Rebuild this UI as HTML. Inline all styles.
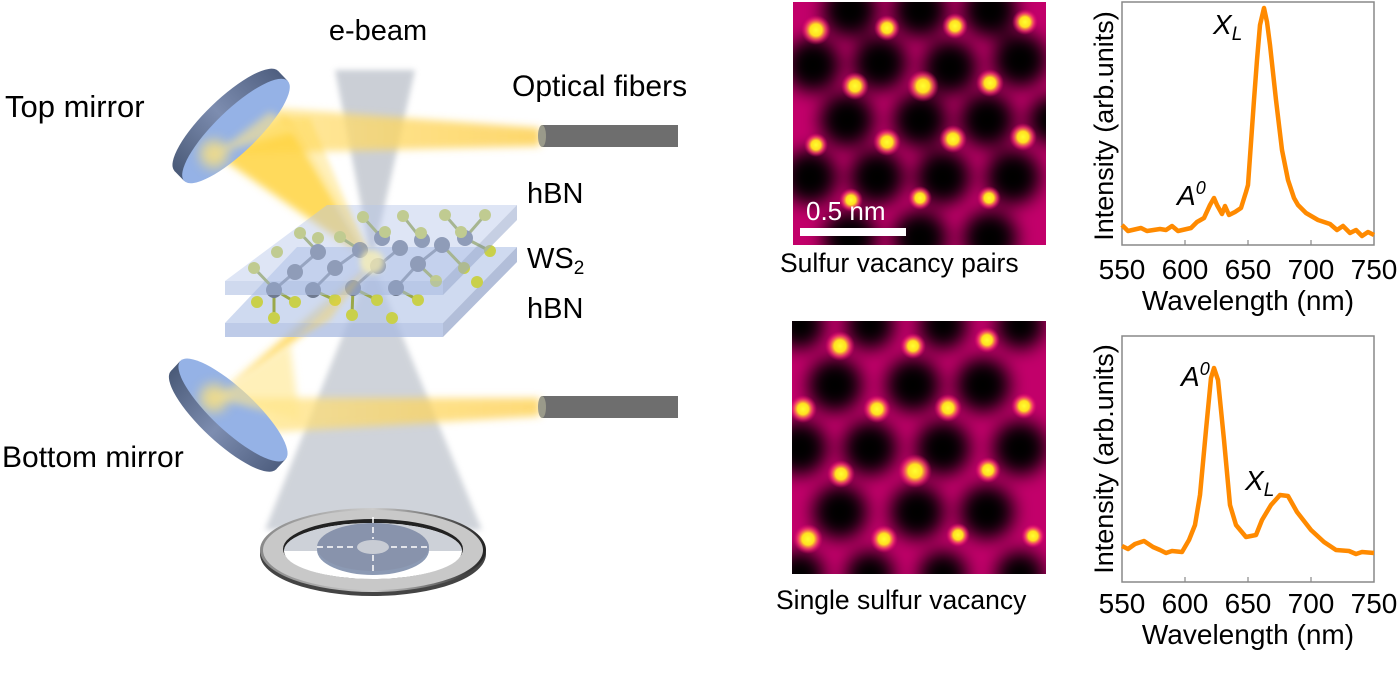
<!DOCTYPE html>
<html><head><meta charset="utf-8"><style>
html,body{margin:0;padding:0;background:#fff}
svg{display:block}
text{font-family:"Liberation Sans",Arial,sans-serif;fill:#000}
</style></head><body>
<svg width="1400" height="700" viewBox="0 0 1400 700" xmlns="http://www.w3.org/2000/svg">
<defs>
<filter id="b3" x="-50%" y="-50%" width="200%" height="200%"><feGaussianBlur stdDeviation="3"/></filter>
<filter id="b4" x="-50%" y="-50%" width="200%" height="200%"><feGaussianBlur stdDeviation="4"/></filter>
<filter id="b6" x="-50%" y="-50%" width="200%" height="200%"><feGaussianBlur stdDeviation="6"/></filter>
<filter id="b9" x="-20%" y="-20%" width="140%" height="140%"><feGaussianBlur stdDeviation="9"/></filter>
<radialGradient id="dot"><stop offset="0" stop-color="#ffff30"/><stop offset="0.4" stop-color="#ffe020"/><stop offset="0.7" stop-color="#ff4070" stop-opacity="0.7"/><stop offset="1" stop-color="#e0006a" stop-opacity="0"/></radialGradient>
<linearGradient id="mir" x1="0" y1="0" x2="1" y2="0"><stop offset="0" stop-color="#4a5a78"/><stop offset="0.5" stop-color="#7d8db0"/><stop offset="1" stop-color="#4f5f80"/></linearGradient>
<linearGradient id="ybeam" x1="0" y1="0" x2="1" y2="0"><stop offset="0" stop-color="#ffe68a"/><stop offset="1" stop-color="#fcc93a"/></linearGradient>
<linearGradient id="ring" x1="0" y1="0" x2="1" y2="0"><stop offset="0" stop-color="#888"/><stop offset="0.5" stop-color="#ccc"/><stop offset="1" stop-color="#222"/></linearGradient>
<clipPath id="c1"><rect x="793" y="2" width="253" height="243"/></clipPath>
<clipPath id="c2"><rect x="792" y="321" width="254" height="253"/></clipPath>
<clipPath id="f1"><ellipse cx="0" cy="0" rx="72" ry="21" transform="translate(236,131) rotate(-44)"/></clipPath>
<clipPath id="f2"><ellipse cx="0" cy="0" rx="72" ry="21" transform="translate(233,410) rotate(43)"/></clipPath>
</defs>

<polygon points="335,70 415,70 372,262" fill="#a9b0bc" opacity="0.6" filter="url(#b3)"/>
<polygon points="372,262 265,530 482,530" fill="#a9b0bc" opacity="0.55" filter="url(#b3)"/>

<g filter="url(#b4)">
<polygon points="272,108 540,128 540,146 215,154" fill="url(#ybeam)" opacity="0.75"/>
<polygon points="215,154 285,116 372,262" fill="#ffd440" opacity="0.85"/>
<polygon points="372,262 215,398 295,340" fill="#ffcf38" opacity="0.85"/>
<polygon points="215,398 540,398 540,416 275,432" fill="url(#ybeam)" opacity="0.7"/>
</g>

<g transform="translate(236,131) rotate(-44)">
<ellipse cx="0" cy="-14" rx="72" ry="21" fill="url(#mir)"/>
<rect x="-72" y="-14" width="144" height="14" fill="url(#mir)"/>
</g>
<ellipse cx="0" cy="0" rx="72" ry="21" transform="translate(236,131) rotate(-44)" fill="#95b2e6"/>
<g clip-path="url(#f1)"><circle cx="214" cy="154" r="14" fill="#ffe37a" opacity="0.8" filter="url(#b6)"/></g>

<g transform="translate(233,410) rotate(43)">
<ellipse cx="0" cy="14" rx="72" ry="21" fill="url(#mir)"/>
<rect x="-72" y="0" width="144" height="14" fill="url(#mir)"/>
</g>
<ellipse cx="0" cy="0" rx="72" ry="21" transform="translate(233,410) rotate(43)" fill="#95b2e6"/>
<g clip-path="url(#f2)"><circle cx="214" cy="398" r="14" fill="#ffe37a" opacity="0.8" filter="url(#b6)"/></g>
<g filter="url(#b4)">
<polygon points="215,154 270,112 300,130" fill="#ffe68a" opacity="0.6"/>
<polygon points="215,398 290,345 300,420" fill="#ffe68a" opacity="0.6"/>
</g>

<polygon points="297,247 517,247 443,323 225,323" fill="#b6c6e8" opacity="0.65"/>
<polygon points="225,323 443,323 443,337 225,337" fill="#a8b9e0" opacity="0.75"/>
<polygon points="443,323 517,247 517,262 443,337" fill="#98a8cc" opacity="0.75"/>
<g>
<g stroke="#9aa84a" stroke-width="3">
<line x1="254" y1="268" x2="275" y2="290"/><line x1="275" y1="290" x2="295" y2="302"/><line x1="313" y1="290" x2="335" y2="300"/><line x1="353" y1="288" x2="377" y2="300"/>
<line x1="396" y1="288" x2="418" y2="300"/><line x1="418" y1="264" x2="436" y2="281"/><line x1="442" y1="245" x2="464" y2="268"/><line x1="465" y1="238" x2="490" y2="251"/>
<line x1="300" y1="233" x2="318" y2="252"/><line x1="340" y1="237" x2="360" y2="250"/><line x1="363" y1="217" x2="382" y2="238"/><line x1="403" y1="216" x2="422" y2="240"/>
<line x1="445" y1="215" x2="465" y2="238"/><line x1="485" y1="215" x2="465" y2="238"/><line x1="274" y1="290" x2="274" y2="318"/><line x1="353" y1="288" x2="352" y2="315"/>
</g>
<g stroke="#7f8aa0" stroke-width="3">
<line x1="274" y1="290" x2="295" y2="272"/><line x1="313" y1="290" x2="335" y2="268"/><line x1="353" y1="288" x2="378" y2="266"/><line x1="396" y1="288" x2="418" y2="264"/>
<line x1="295" y1="272" x2="318" y2="252"/><line x1="335" y1="268" x2="360" y2="250"/><line x1="378" y1="266" x2="400" y2="248"/><line x1="418" y1="264" x2="442" y2="245"/>
</g>
<g fill="#6f7a90">
<circle cx="274" cy="290" r="8"/><circle cx="313" cy="290" r="8"/><circle cx="353" cy="288" r="8"/><circle cx="396" cy="288" r="8"/>
<circle cx="295" cy="272" r="8"/><circle cx="335" cy="268" r="8"/><circle cx="378" cy="266" r="8"/><circle cx="418" cy="264" r="8"/>
<circle cx="318" cy="252" r="8"/><circle cx="360" cy="250" r="8"/><circle cx="400" cy="248" r="8"/><circle cx="442" cy="245" r="8"/>
<circle cx="382" cy="238" r="8"/><circle cx="422" cy="240" r="8"/><circle cx="465" cy="238" r="8"/>
</g>
<g fill="#c9d04a">
<circle cx="254" cy="268" r="6"/><circle cx="257" cy="302" r="6"/><circle cx="295" cy="302" r="6"/><circle cx="274" cy="318" r="6"/>
<circle cx="335" cy="300" r="6"/><circle cx="352" cy="315" r="6"/><circle cx="377" cy="300" r="6"/><circle cx="392" cy="318" r="6"/>
<circle cx="418" cy="300" r="6"/><circle cx="436" cy="281" r="6"/><circle cx="464" cy="268" r="6"/><circle cx="490" cy="251" r="6"/>
<circle cx="477" cy="282" r="6"/><circle cx="277" cy="252" r="6"/><circle cx="300" cy="233" r="6"/><circle cx="340" cy="237" r="6"/>
<circle cx="363" cy="217" r="6"/><circle cx="403" cy="216" r="6"/><circle cx="445" cy="215" r="6"/><circle cx="485" cy="215" r="6"/>
<circle cx="421" cy="233" r="6"/><circle cx="461" cy="232" r="6"/><circle cx="385" cy="232" r="6"/><circle cx="318" cy="238" r="6"/>
</g>
</g>
<polygon points="327,205 517,205 443,281 225,281" fill="#b6c6e8" opacity="0.45"/>
<polygon points="225,281 443,281 443,295 225,295" fill="#a8b9e0" opacity="0.55"/>
<polygon points="443,281 517,205 517,220 443,295" fill="#98a8cc" opacity="0.55"/>
<polygon points="372,262 285,118 310,118" fill="#ffd440" opacity="0.35" filter="url(#b3)"/>
<polygon points="372,262 295,340 330,320" fill="#ffcf38" opacity="0.35" filter="url(#b3)"/>
<circle cx="372" cy="262" r="12" fill="#fff4b0" opacity="0.7" filter="url(#b3)"/>

<ellipse cx="373" cy="554" rx="113" ry="42" fill="#444"/>
<ellipse cx="373" cy="550" rx="113" ry="42" fill="url(#ring)"/>
<ellipse cx="373" cy="550" rx="110" ry="40" fill="#c8c8c8"/>
<ellipse cx="373" cy="549" rx="90" ry="30" fill="#222"/>
<ellipse cx="373" cy="551" rx="89" ry="28" fill="#fff"/>
<path d="M284,551 A89,28 0 0 1 462,551 Z" fill="#cdd1d8"/>
<ellipse cx="373" cy="550" rx="56" ry="25" fill="#8c9ab4"/>
<ellipse cx="373" cy="547" rx="56" ry="24" fill="#8893ac"/>
<ellipse cx="373" cy="547" rx="16" ry="7" fill="#c8ccd4"/>
<g stroke="#fff" stroke-width="1.5" stroke-dasharray="6,4">
<line x1="317" y1="547" x2="355" y2="547"/><line x1="391" y1="547" x2="430" y2="547"/>
<line x1="373" y1="517" x2="373" y2="539"/><line x1="373" y1="555" x2="373" y2="573"/>
</g>

<rect x="542" y="125" width="136" height="22" fill="#6e6e6e"/>
<ellipse cx="542" cy="136" rx="4" ry="11" fill="#9a9a8a"/>
<rect x="542" y="396" width="136" height="22" fill="#6e6e6e"/>
<ellipse cx="542" cy="407" rx="4" ry="11" fill="#9a9a8a"/>

<g font-size="29">
<text x="378" y="40" text-anchor="middle">e-beam</text>
<text x="5" y="117" font-size="31">Top mirror</text>
<text x="512" y="96" font-size="30">Optical fibers</text>
<text x="527" y="203">hBN</text>
<text x="527" y="268">WS<tspan font-size="19" dy="6">2</tspan></text>
<text x="527" y="318">hBN</text>
<text x="2" y="467" font-size="30">Bottom mirror</text>
</g>

<g clip-path="url(#c1)">
<rect x="793" y="2" width="253" height="243" fill="#c2006a"/>
<g filter="url(#b9)">
<g fill="#000">
<circle cx="850" cy="10" r="27"/><circle cx="920" cy="10" r="27"/><circle cx="990" cy="10" r="27"/>
<circle cx="813" cy="65" r="27"/><circle cx="880" cy="63" r="27"/><circle cx="950" cy="67" r="27"/><circle cx="1020" cy="60" r="27"/>
<circle cx="847" cy="120" r="27"/><circle cx="920" cy="120" r="27"/><circle cx="987" cy="120" r="27"/><circle cx="1052" cy="120" r="24"/>
<circle cx="810" cy="177" r="27"/><circle cx="877" cy="177" r="27"/><circle cx="943" cy="177" r="27"/><circle cx="1013" cy="177" r="27"/>
<circle cx="850" cy="238" r="27"/><circle cx="920" cy="238" r="27"/><circle cx="990" cy="238" r="27"/>
</g>
</g>
<g fill="url(#dot)">
<circle cx="816" cy="30" r="15"/><circle cx="887" cy="28" r="13"/><circle cx="955" cy="26" r="13"/><circle cx="1025" cy="22" r="13"/>
<circle cx="855" cy="86" r="14"/><circle cx="923" cy="86" r="16"/><circle cx="990" cy="83" r="14"/>
<circle cx="816" cy="145" r="12"/><circle cx="887" cy="142" r="14"/><circle cx="953" cy="139" r="14"/><circle cx="1023" cy="137" r="14"/>
<circle cx="851" cy="200" r="12"/><circle cx="920" cy="198" r="12"/><circle cx="989" cy="198" r="12"/>
</g>
<rect x="800" y="228" width="106" height="8" fill="#fff"/>
<text x="806" y="220" font-size="26" style="fill:#fff">0.5 nm</text>
</g>
<text x="780" y="272" font-size="26.5">Sulfur vacancy pairs</text>

<g clip-path="url(#c2)">
<rect x="792" y="321" width="254" height="253" fill="#c2006a"/>
<g filter="url(#b9)">
<g fill="#000">
<circle cx="800" cy="325" r="24"/><circle cx="870" cy="325" r="24"/><circle cx="943" cy="325" r="24"/><circle cx="1020" cy="325" r="24"/>
<circle cx="835" cy="385" r="27"/><circle cx="913" cy="385" r="27"/><circle cx="983" cy="385" r="27"/>
<circle cx="800" cy="448" r="27"/><circle cx="870" cy="448" r="27"/><circle cx="943" cy="448" r="27"/><circle cx="1020" cy="448" r="27"/>
<circle cx="840" cy="512" r="27"/><circle cx="917" cy="512" r="27"/><circle cx="987" cy="512" r="27"/>
<circle cx="800" cy="575" r="24"/><circle cx="870" cy="575" r="24"/><circle cx="943" cy="575" r="24"/><circle cx="1020" cy="575" r="24"/>
</g>
</g>
<g fill="url(#dot)">
<circle cx="840" cy="346" r="15"/><circle cx="913" cy="346" r="13"/><circle cx="987" cy="340" r="13"/>
<circle cx="803" cy="409" r="14"/><circle cx="877" cy="409" r="14"/><circle cx="948" cy="408" r="14"/><circle cx="1024" cy="406" r="13"/>
<circle cx="841" cy="474" r="14"/><circle cx="915" cy="471" r="17"/><circle cx="988" cy="470" r="13"/>
<circle cx="808" cy="539" r="15"/><circle cx="884" cy="539" r="14"/><circle cx="958" cy="535" r="12"/><circle cx="1033" cy="536" r="12"/>
</g>
</g>
<text x="776" y="609" font-size="26.5">Single sulfur vacancy</text>

<g font-size="28">
<rect x="1122" y="2" width="252" height="243" fill="none" stroke="#888" stroke-width="1.5"/>
<g stroke="#888" stroke-width="1.2">
<line x1="1185" y1="245" x2="1185" y2="240"/><line x1="1248" y1="245" x2="1248" y2="240"/><line x1="1311" y1="245" x2="1311" y2="240"/>
</g>
<polyline fill="none" stroke="#ff8a00" stroke-width="4.5" stroke-linejoin="round" points="1122,225 1128,231 1141,228 1147,231 1160,229 1166,230 1172,226 1178,231 1191,228 1197,222 1204,218 1210,205 1214,198 1217,205 1222,214 1225,206 1229,215 1235,212 1241,208 1246,192 1248,185 1254,100 1257,60 1260,25 1264,8 1267,22 1270,45 1276,100 1282,150 1288,180 1294,198 1298,205 1306,213 1318,220 1330,224 1337,230 1343,226 1350,233 1356,230 1362,236 1368,232 1374,235"/>
<text x="1122" y="279" text-anchor="middle">550</text><text x="1185" y="279" text-anchor="middle">600</text><text x="1248" y="279" text-anchor="middle">650</text><text x="1311" y="279" text-anchor="middle">700</text><text x="1374" y="279" text-anchor="middle">750</text>
<text x="1248" y="310" text-anchor="middle">Wavelength (nm)</text>
<text transform="translate(1113,126) rotate(-90)" text-anchor="middle" font-size="27">Intensity (arb.units)</text>
<text x="1213" y="34" font-style="italic">X<tspan font-size="19" dy="6">L</tspan></text>
<text x="1177" y="205" font-style="italic">A<tspan font-size="18" dy="-11">0</tspan></text>

<rect x="1122" y="336" width="252" height="246" fill="none" stroke="#888" stroke-width="1.5"/>
<g stroke="#888" stroke-width="1.2">
<line x1="1185" y1="582" x2="1185" y2="577"/><line x1="1248" y1="582" x2="1248" y2="577"/><line x1="1311" y1="582" x2="1311" y2="577"/>
</g>
<polyline fill="none" stroke="#ff8a00" stroke-width="4.5" stroke-linejoin="round" points="1122,546 1128,549 1135,544 1144,541 1153,547 1160,550 1166,553 1172,551 1182,552 1189,540 1195,525 1200,495 1206,430 1211,378 1214,368 1218,380 1224,440 1230,505 1236,525 1246,537 1256,535 1262,520 1271,505 1280,495 1288,496 1297,512 1311,530 1324,542 1336,550 1349,551 1356,554 1362,552 1374,553"/>
<text x="1122" y="613" text-anchor="middle">550</text><text x="1185" y="613" text-anchor="middle">600</text><text x="1248" y="613" text-anchor="middle">650</text><text x="1311" y="613" text-anchor="middle">700</text><text x="1374" y="613" text-anchor="middle">750</text>
<text x="1248" y="644" text-anchor="middle">Wavelength (nm)</text>
<text transform="translate(1113,459) rotate(-90)" text-anchor="middle" font-size="27">Intensity (arb.units)</text>
<text x="1181" y="386" font-style="italic">A<tspan font-size="18" dy="-11">0</tspan></text>
<text x="1245" y="490" font-style="italic">X<tspan font-size="19" dy="6">L</tspan></text>
</g>
</svg>
</body></html>
